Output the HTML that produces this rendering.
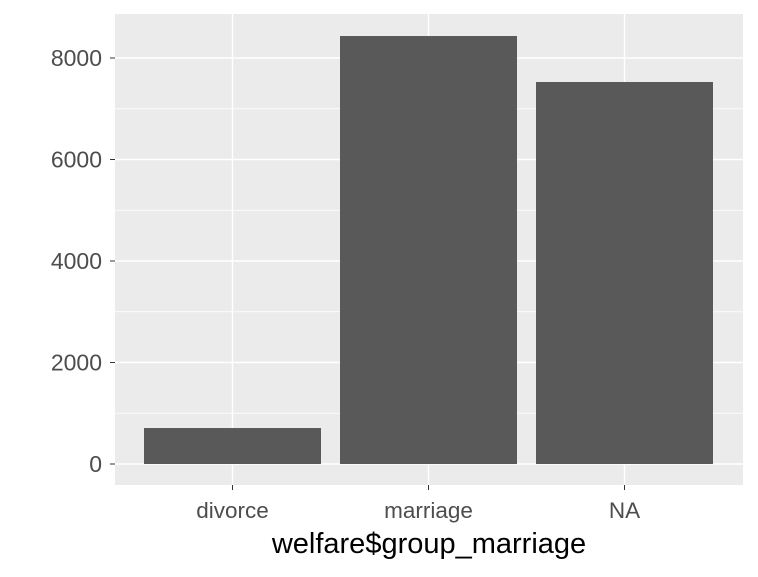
<!DOCTYPE html>
<html><head><meta charset="utf-8"><style>
body{margin:0;background:#fff;}
svg text{font-family:"Liberation Sans",Arial,sans-serif;}
</style></head><body>
<svg id="chart" width="758" height="572">
<rect x="115" y="14" width="628" height="471" fill="#ebebeb"/>
<g id="grid"></g>
<g id="bars"></g>
<g id="axes"></g>
<text x="429" y="553" font-size="29" text-anchor="middle" fill="#000">welfare$group_marriage</text>
</svg>
<script>
const categories = ["divorce", "marriage", "NA"];
const counts = [709, 8433, 7527];
const yTicks = [0, 2000, 4000, 6000, 8000];
const NS = "http://www.w3.org/2000/svg";
const x0 = 115, x1 = 743, step = 196, barW = 177;
function xCenter(i){ return 232.5 + i * step; }
function yPos(v){ return 464 - v * 0.05075; }
function mk(tag, attrs){ const e = document.createElementNS(NS, tag); for (const k in attrs) e.setAttribute(k, attrs[k]); return e; }
const grid = document.getElementById("grid"), bars = document.getElementById("bars"), axes = document.getElementById("axes");
for (let i = 0; i < yTicks.length - 1; i++) {
  const y = yPos((yTicks[i] + yTicks[i+1]) / 2);
  const l = mk("line", {x1:x0, x2:x1, y1:y, y2:y, stroke:"#fff", "stroke-width":0.7});
  
  
  grid.appendChild(l);
}
yTicks.forEach(t => {
  const y = yPos(t);
  const l = mk("line", {x1:x0, x2:x1, y1:y, y2:y, stroke:"#fff", "stroke-width":1.4});
  
  
  grid.appendChild(l);
  const tk = mk("line", {x1:x0-5, x2:x0, y1:y, y2:y, stroke:"#333", "stroke-width":1});
  
  
  axes.appendChild(tk);
  const tx = mk("text", {x:x0-13, y:y+8, "font-size":23, "text-anchor":"end", fill:"#4d4d4d"});
  tx.textContent = t;
  
  
  axes.appendChild(tx);
});
categories.forEach((c, i) => {
  const cx = xCenter(i);
  const g = mk("line", {x1:cx, x2:cx, y1:14, y2:485, stroke:"#fff", "stroke-width":1.4});
  
  
  grid.appendChild(g);
  const r = mk("rect", {x:cx - barW/2, y:yPos(counts[i]), width:barW, height:yPos(0) - yPos(counts[i]), fill:"#595959"});
  
  
  bars.appendChild(r);
  const tk = mk("line", {x1:cx, x2:cx, y1:485, y2:490, stroke:"#333", "stroke-width":1});
  
  
  axes.appendChild(tk);
  const tx = mk("text", {x:cx, y:518, "font-size":22.5, "text-anchor":"middle", fill:"#4d4d4d"});
  tx.textContent = c;
  
  
  axes.appendChild(tx);
});
</script>
</body></html>
